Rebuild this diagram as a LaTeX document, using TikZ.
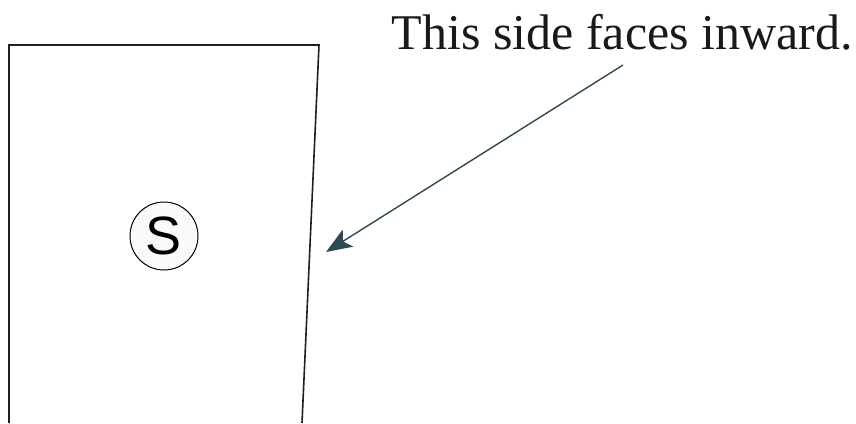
\documentclass[tikz,border=0pt]{standalone}
\usepackage{fontspec}
\setmainfont{Liberation Serif}
\newfontfamily\labelsans{Liberation Sans}
\usetikzlibrary{arrows.meta,calc}
\definecolor{arrowslate}{HTML}{2F4A52}

\begin{document}
\begin{tikzpicture}[x=1pt,y=-1pt,line width=1.6pt,>=Stealth]
\useasboundingbox (0,0) rectangle (856,423);
% ---------- panel ----------
\draw[color=black!88] (9,423) -- (9,45) -- (319,45) -- (302,423);
\node[circle,draw,line width=1pt,fill=black!2,minimum size=68pt,inner sep=0pt,
  font=\labelsans\fontsize{54}{54}\selectfont] (sign) at (164,236) {S};
% ---------- note ----------
\node[anchor=base west,inner sep=0pt,font=\fontsize{50}{60}\selectfont,color=black!90] (note) at (391,49) {This side faces inward.};
\coordinate (tail) at (623,65);
\coordinate (tip) at (326,252);
\draw[->,color=arrowslate,line width=1.4pt,>={Stealth[length=26pt,width=20pt,inset=6pt]}] (tail) -- (tip);
\end{tikzpicture}
\end{document}
